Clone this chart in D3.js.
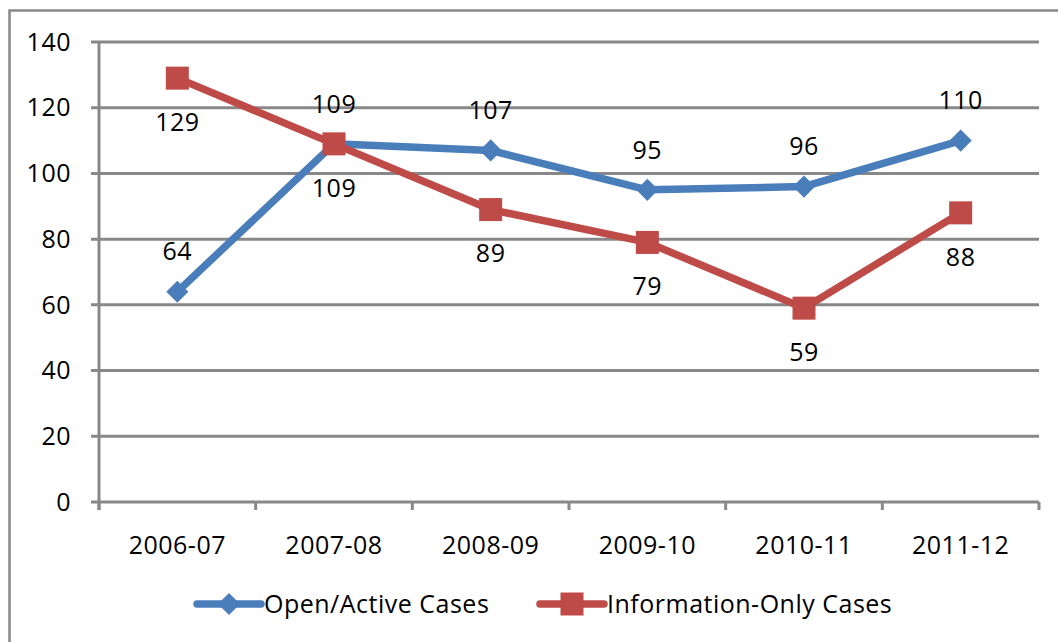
<!DOCTYPE html>
<html>
<head>
  <meta charset="utf-8">
  <script src="https://d3js.org/d3.v7.min.js"></script>
  <style>
    body{margin:0;background:#fff;}
    svg{display:block;}
    text{font-family:"Open Sans",sans-serif;fill:#000;font-size:25px;letter-spacing:0.5px;}
  </style>
</head>
<body>
<svg></svg>
<script>
  // data
  var years = ["2006-07", "2007-08", "2008-09", "2009-10", "2010-11", "2011-12"];
  var openCases = [64, 109, 107, 95, 96, 110];
  var infoCases = [129, 109, 89, 79, 59, 88];
  var yTicks = [0, 20, 40, 60, 80, 100, 120, 140];
  var seriesNames = ["Open/Active Cases", "Information-Only Cases"];

  var W = 1058, H = 642;
  var plotL = 99, plotR = 1039, plotT = 42, plotB = 502;
  var grey = "#888888", blue = "#4A7EBB", red = "#BE4B48";

  var svg = d3.select("svg").attr("width", W).attr("height", H);

  // outer chart border (cut off by the picture edge on right/bottom)
  svg.append("rect")
    .attr("x", 9.5).attr("y", 10.5)
    .attr("width", W + 20).attr("height", H + 20)
    .attr("fill", "none").attr("stroke", grey).attr("stroke-width", 2.5);

  var x = d3.scaleBand().domain(years).range([plotL, plotR]);
  var y = d3.scaleLinear().domain([0, 140]).range([plotB, plotT]);

  // gridlines + y ticks
  svg.append("g").selectAll("line").data(yTicks).join("line")
    .attr("x1", plotL - 8).attr("x2", plotR)
    .attr("y1", d => y(d)).attr("y2", d => y(d))
    .attr("stroke", grey).attr("stroke-width", 3);

  svg.append("g").selectAll("text").data(yTicks).join("text")
    .attr("x", 71).attr("y", d => y(d)).attr("dy", "0.35em")
    .attr("text-anchor", "end")
    .text(d => d);

  // y axis line
  svg.append("line").attr("x1", plotL).attr("x2", plotL)
    .attr("y1", plotT).attr("y2", plotB + 8)
    .attr("stroke", grey).attr("stroke-width", 3);

  // x ticks at category boundaries
  var bounds = years.map(d => x(d)).concat([plotR]);
  svg.append("g").selectAll("line").data(bounds).join("line")
    .attr("x1", d => d).attr("x2", d => d)
    .attr("y1", plotB).attr("y2", plotB + 8)
    .attr("stroke", grey).attr("stroke-width", 3);

  svg.append("g").selectAll("text").data(years).join("text")
    .attr("x", d => x(d) + x.bandwidth() / 2).attr("y", 545).attr("dy", "0.35em")
    .attr("text-anchor", "middle")
    .text(d => d);

  var cx = d => x(d) + x.bandwidth() / 2;
  var line = d3.line().x((d, i) => cx(years[i])).y(d => y(d));

  // Open/Active series
  svg.append("path").datum(openCases).attr("d", line)
    .attr("fill", "none").attr("stroke", blue).attr("stroke-width", 7.5)
    .attr("stroke-linejoin", "round");
  // Information-only series
  svg.append("path").datum(infoCases).attr("d", line)
    .attr("fill", "none").attr("stroke", red).attr("stroke-width", 7.5)
    .attr("stroke-linejoin", "round");

  // markers
  var diamond = d3.symbol().type(d3.symbolSquare).size(245);
  svg.append("g").selectAll("path").data(openCases).join("path")
    .attr("d", diamond())
    .attr("transform", (d, i) => "translate(" + cx(years[i]) + "," + y(d) + ") rotate(45)")
    .attr("fill", blue);

  svg.append("g").selectAll("rect").data(infoCases).join("rect")
    .attr("x", (d, i) => cx(years[i]) - 11.5).attr("y", d => y(d) - 11.5)
    .attr("width", 23).attr("height", 23).attr("fill", red);

  // data labels
  svg.append("g").selectAll("text").data(openCases).join("text")
    .attr("x", (d, i) => cx(years[i])).attr("y", d => y(d) - 40).attr("dy", "0.35em")
    .attr("text-anchor", "middle")
    .text(d => d);

  svg.append("g").selectAll("text").data(infoCases).join("text")
    .attr("x", (d, i) => cx(years[i])).attr("y", d => y(d) + 44).attr("dy", "0.35em")
    .attr("text-anchor", "middle")
    .text(d => d);

  // legend
  var leg = svg.append("g");
  var legItems = [
    {name: seriesNames[0], color: blue, x0: 197, shape: "diamond"},
    {name: seriesNames[1], color: red, x0: 540, shape: "square"}
  ];
  legItems.forEach(function (it) {
    leg.append("line").attr("x1", it.x0).attr("x2", it.x0 + 64)
      .attr("y1", 604).attr("y2", 604)
      .attr("stroke", it.color).attr("stroke-width", 7.5).attr("stroke-linecap", "round");
    if (it.shape == "diamond") {
      leg.append("path").attr("d", diamond())
        .attr("transform", "translate(" + (it.x0 + 32) + ",604) rotate(45)")
        .attr("fill", it.color);
    } else {
      leg.append("rect").attr("x", it.x0 + 20.5).attr("y", 592.5)
        .attr("width", 23).attr("height", 23).attr("fill", it.color);
    }
    leg.append("text").attr("x", it.x0 + 67).attr("y", 604).attr("dy", "0.35em")
      .text(it.name);
  });
</script>
</body>
</html>
